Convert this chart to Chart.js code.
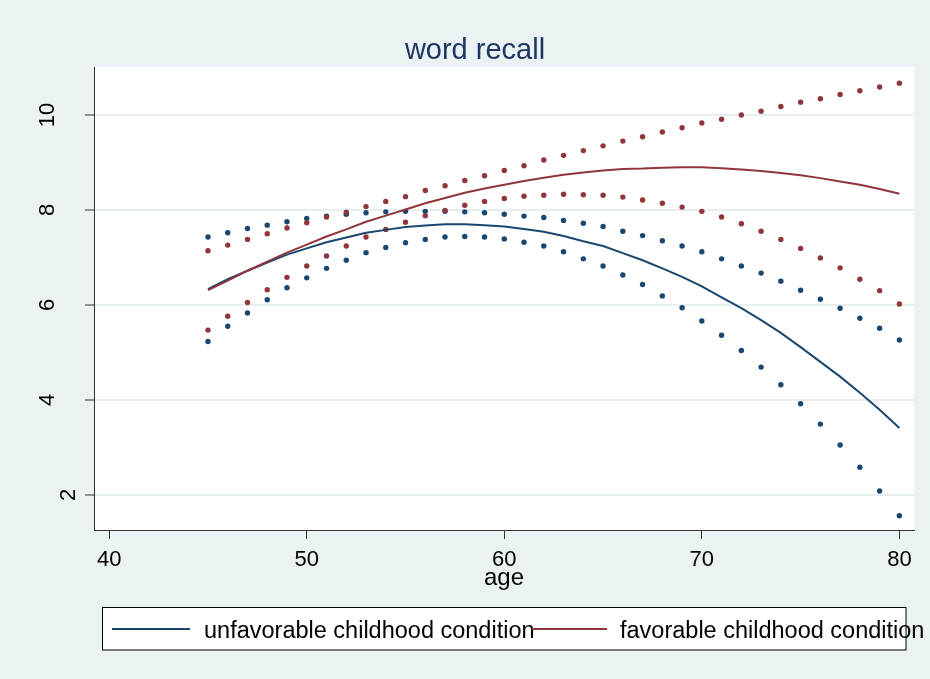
<!DOCTYPE html>
<html>
<head>
<meta charset="utf-8">
<title>word recall</title>
<script src="https://cdn.jsdelivr.net/npm/chart.js@4/dist/chart.umd.min.js"></script>
<style>
  html, body { margin: 0; padding: 0; background: #EAF2F3; }
  #wrap { width: 930px; height: 679px; position: relative; }
</style>
</head>
<body>
<div id="wrap"><canvas id="c" width="930" height="679"></canvas></div>
<script>
// Age grid (years)
const ages = [45, 46, 47, 48, 49, 50, 51, 52, 53, 54, 55, 56, 57, 58, 59, 60,
              61, 62, 63, 64, 65, 66, 67, 68, 69, 70, 71, 72, 73, 74, 75, 76, 77, 78, 79, 80];

// Unfavorable childhood condition: predicted word recall and confidence bounds
const unfavMean = [6.33, 6.54, 6.72, 6.89, 7.06, 7.19, 7.32, 7.42, 7.52, 7.58, 7.64, 7.67, 7.70, 7.70, 7.68, 7.65,
                   7.60, 7.54, 7.45, 7.34, 7.24, 7.09, 6.94, 6.77, 6.59, 6.39, 6.16, 5.93, 5.68, 5.41, 5.11, 4.80, 4.49, 4.15, 3.79, 3.41];
const unfavUpper = [7.43, 7.52, 7.61, 7.68, 7.75, 7.82, 7.87, 7.91, 7.94, 7.96, 7.97, 7.97, 7.97, 7.96, 7.94, 7.91,
                    7.87, 7.84, 7.78, 7.72, 7.65, 7.55, 7.46, 7.35, 7.24, 7.12, 6.97, 6.82, 6.67, 6.50, 6.31, 6.12, 5.93, 5.72, 5.51, 5.26];
const unfavLower = [5.23, 5.55, 5.83, 6.11, 6.36, 6.57, 6.77, 6.94, 7.10, 7.21, 7.31, 7.38, 7.43, 7.44, 7.43, 7.39,
                    7.32, 7.24, 7.12, 6.97, 6.82, 6.63, 6.43, 6.19, 5.94, 5.66, 5.36, 5.04, 4.69, 4.32, 3.92, 3.49, 3.05, 2.58, 2.08, 1.56];

// Favorable childhood condition: predicted word recall and confidence bounds
const favMean = [6.31, 6.51, 6.72, 6.91, 7.10, 7.27, 7.44, 7.59, 7.75, 7.88, 8.01, 8.14, 8.25, 8.36, 8.45, 8.53,
                 8.61, 8.68, 8.74, 8.79, 8.83, 8.86, 8.87, 8.89, 8.90, 8.90, 8.88, 8.85, 8.82, 8.78, 8.73, 8.67, 8.60, 8.53, 8.44, 8.34];
const favUpper = [7.14, 7.26, 7.38, 7.50, 7.62, 7.73, 7.85, 7.95, 8.07, 8.18, 8.28, 8.41, 8.51, 8.62, 8.72, 8.83,
                  8.93, 9.05, 9.15, 9.25, 9.35, 9.45, 9.54, 9.64, 9.73, 9.83, 9.91, 10.00, 10.08, 10.18, 10.27, 10.34, 10.43, 10.51, 10.59, 10.67];
const favLower = [5.47, 5.76, 6.05, 6.32, 6.58, 6.82, 7.03, 7.24, 7.43, 7.59, 7.74, 7.88, 7.99, 8.10, 8.18, 8.24,
                  8.29, 8.31, 8.33, 8.32, 8.31, 8.27, 8.21, 8.14, 8.06, 7.97, 7.85, 7.71, 7.55, 7.38, 7.19, 6.99, 6.78, 6.54, 6.30, 6.02];

// Axis ticks and labels
const xTicks = [40, 50, 60, 70, 80];
const yTicks = [2, 4, 6, 8, 10];
const seriesNames = ['unfavorable childhood condition', 'favorable childhood condition'];
const chartTitle = 'word recall';
const xTitle = 'age';

const NAVY = '#1A476F';
const MAROON = '#90353B';
const FONT = '"Liberation Sans", Arial, Helvetica, sans-serif';

const pts = (vals) => ages.map((a, i) => ({ x: a, y: vals[i] }));

function meanLine(vals, color, order) {
  return { type: 'line', data: pts(vals), borderColor: color, borderWidth: 2,
           pointRadius: 0, tension: 0, fill: false, order };
}
function bandDots(vals, color, order) {
  return { type: 'line', data: pts(vals), showLine: false, pointRadius: 2.7,
           pointBorderWidth: 0, pointBackgroundColor: color, backgroundColor: color,
           borderColor: color, order };
}

// White plot region behind the data
const plotBg = {
  id: 'plotBg',
  beforeDraw(chart) {
    const { ctx, chartArea: a } = chart;
    ctx.save();
    ctx.fillStyle = '#FFFFFF';
    ctx.fillRect(a.left, a.top, a.right - a.left, a.bottom - a.top);
    ctx.restore();
  }
};

// Title, tick labels, axis title and boxed legend
const decorations = {
  id: 'decorations',
  afterDraw(chart) {
    const { ctx } = chart;
    const xs = chart.scales.x, ys = chart.scales.y;
    ctx.save();

    ctx.fillStyle = '#1F3563';
    ctx.font = '29px ' + FONT;
    ctx.textAlign = 'center';
    ctx.textBaseline = 'alphabetic';
    ctx.fillText(chartTitle, 475, 59);

    ctx.fillStyle = '#000';
    ctx.font = '22px ' + FONT;
    xTicks.forEach(v => ctx.fillText(String(v), xs.getPixelForValue(v), 566));

    yTicks.forEach(v => {
      const y = ys.getPixelForValue(v);
      const bx = v === 2 ? 75 : 53.5;
      ctx.save();
      ctx.translate(bx, y);
      ctx.rotate(-Math.PI / 2);
      ctx.textAlign = 'center';
      ctx.fillText(String(v), 0, 0);
      ctx.restore();
    });

    ctx.font = '24px ' + FONT;
    ctx.fillText(xTitle, (chart.chartArea.left + chart.chartArea.right) / 2, 585);

    // legend
    ctx.fillStyle = '#FFFFFF';
    ctx.fillRect(102.5, 607.5, 803.5, 42.5);
    ctx.strokeStyle = '#000';
    ctx.lineWidth = 1;
    ctx.strokeRect(102.5, 607.5, 803.5, 42.5);

    ctx.font = '23.5px ' + FONT;
    ctx.textAlign = 'left';
    const items = [
      { color: NAVY, x0: 112, x1: 190, tx: 204, label: seriesNames[0] },
      { color: MAROON, x0: 532, x1: 607, tx: 620, label: seriesNames[1] }
    ];
    items.forEach(it => {
      ctx.strokeStyle = it.color;
      ctx.lineWidth = 2;
      ctx.beginPath();
      ctx.moveTo(it.x0, 629);
      ctx.lineTo(it.x1, 629);
      ctx.stroke();
      ctx.fillStyle = '#000';
      ctx.fillText(it.label, it.tx, 637.5);
    });
    ctx.restore();
  }
};

new Chart(document.getElementById('c'), {
  type: 'line',
  data: {
    datasets: [
      bandDots(unfavUpper, NAVY, 4),
      bandDots(unfavLower, NAVY, 4),
      bandDots(favUpper, MAROON, 3),
      bandDots(favLower, MAROON, 3),
      meanLine(unfavMean, NAVY, 2),
      meanLine(favMean, MAROON, 1)
    ]
  },
  options: {
    responsive: false,
    animation: false,
    devicePixelRatio: 1,
    layout: { padding: { left: 0, top: 67, right: 16, bottom: 0 } },
    plugins: { legend: { display: false }, title: { display: false }, tooltip: { enabled: false } },
    scales: {
      x: {
        type: 'linear', min: 39.23, max: 80.74,
        afterBuildTicks(s) { s.ticks = xTicks.map(v => ({ value: v })); },
        afterFit(s) { s.height = 149; },
        ticks: { display: false },
        grid: { drawOnChartArea: false, drawTicks: true, tickLength: 9, tickColor: '#333', tickWidth: 1 },
        border: { display: true, color: '#333', width: 1 }
      },
      y: {
        type: 'linear', min: 1.26, max: 11.01,
        afterBuildTicks(s) { s.ticks = yTicks.map(v => ({ value: v })); },
        afterFit(s) { s.width = 94; },
        ticks: { display: false },
        grid: { color: '#E6EEF0', lineWidth: 2, drawTicks: true, tickLength: 9, tickColor: '#333', tickWidth: 1 },
        border: { display: true, color: '#333', width: 1 }
      }
    }
  },
  plugins: [plotBg, decorations]
});
</script>
</body>
</html>
